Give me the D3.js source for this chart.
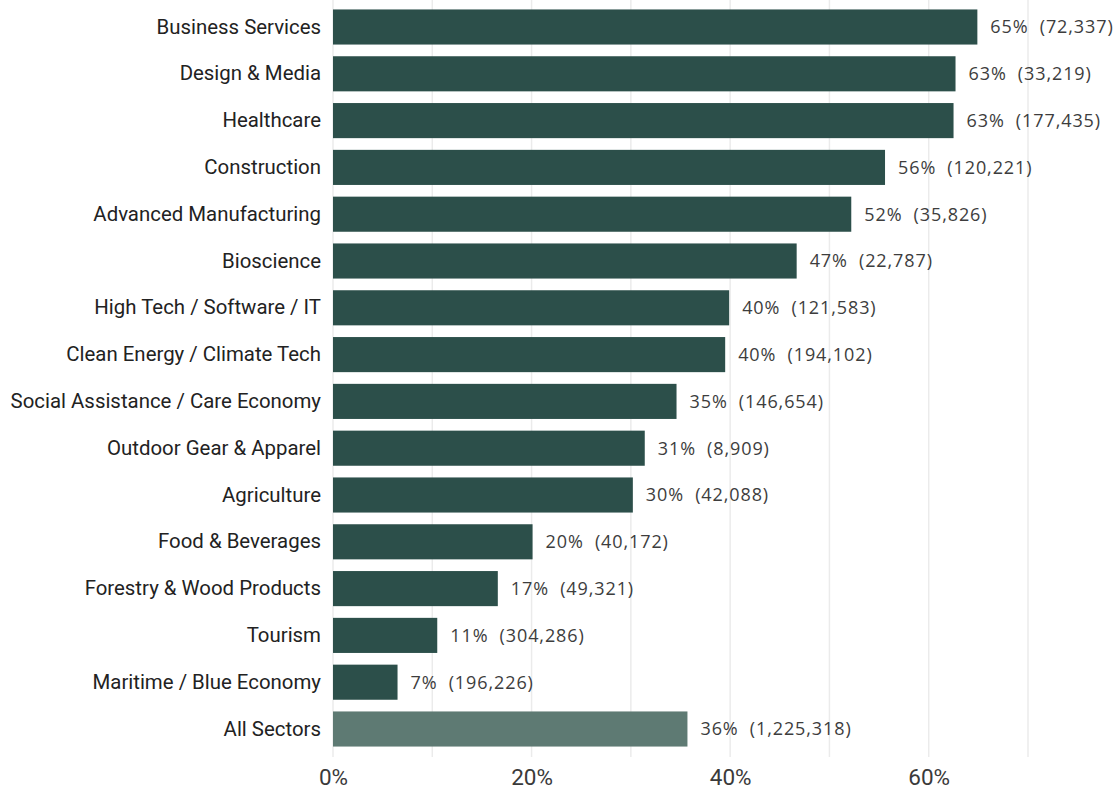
<!DOCTYPE html>
<html>
<head>
<meta charset="utf-8">
<script src="https://cdn.jsdelivr.net/npm/d3@7"></script>
<style>
  html, body { margin: 0; padding: 0; background: #fff; }
  svg text { font-family: "Roboto", sans-serif; }
</style>
</head>
<body>
<svg id="chart" width="1120" height="792"></svg>
<script>
// Share of workers by sector, with worker counts
const sectors = [
  "Business Services", "Design & Media", "Healthcare", "Construction",
  "Advanced Manufacturing", "Bioscience", "High Tech / Software / IT",
  "Clean Energy / Climate Tech", "Social Assistance / Care Economy",
  "Outdoor Gear & Apparel", "Agriculture", "Food & Beverages",
  "Forestry & Wood Products", "Tourism", "Maritime / Blue Economy", "All Sectors"
];
const shares = [64.9, 62.7, 62.5, 55.6, 52.2, 46.7, 39.9, 39.5, 34.6, 31.4, 30.2, 20.1, 16.6, 10.5, 6.5, 35.7];
const counts = [72337, 33219, 177435, 120221, 35826, 22787, 121583, 194102, 146654, 8909, 42088, 40172, 49321, 304286, 196226, 1225318];
const xTicks = [0, 20, 40, 60];
const gridValues = [0, 10, 20, 30, 40, 50, 60, 70];

const rows = sectors.map((s, i) => ({ sector: s, share: shares[i], count: counts[i], total: s === "All Sectors" }));

const svg = d3.select("#chart");
const width = 1120, height = 792;
const plotLeft = 333, plotBottom = 757;

const x = d3.scaleLinear().domain([0, 70]).range([plotLeft, plotLeft + 695]);
const y = d3.scaleBand().domain(sectors).range([3.6, 752.4]).paddingInner(0.25).paddingOuter(0.125);

// vertical gridlines
svg.append("g").selectAll("line").data(gridValues).join("line")
  .attr("x1", d => x(d)).attr("x2", d => x(d))
  .attr("y1", 0).attr("y2", plotBottom)
  .attr("stroke", "#ebebeb").attr("stroke-width", 1.5);

// bars
svg.append("g").selectAll("rect").data(rows).join("rect")
  .attr("x", x(0))
  .attr("y", d => y(d.sector))
  .attr("width", d => x(d.share) - x(0))
  .attr("height", y.bandwidth())
  .attr("fill", d => d.total ? "#5e7a73" : "#2c4f4a");

// value labels
const fmt = d3.format(",");
svg.append("g").selectAll("text").data(rows).join("text")
  .attr("x", d => x(d.share) + 13)
  .attr("y", d => y(d.sector) + y.bandwidth() / 2)
  .attr("dy", "0.36em")
  .attr("font-size", 18)
  .attr("letter-spacing", 0.9)
  .attr("fill", "#3d3d3d")
  .style("font-family", "'Open Sans', sans-serif")
  .attr("xml:space", "preserve")
  .text(d => `${Math.round(d.share)}%  (${fmt(d.count)})`);

// category axis
const yAxis = d3.axisLeft(y).tickSize(0).tickPadding(12);
svg.append("g").attr("transform", `translate(${plotLeft},0)`).call(yAxis)
  .call(g => g.select(".domain").remove())
  .call(g => g.selectAll("text").attr("font-size", 20.4).attr("fill", "#222")
    .style("font-family", "'Roboto', sans-serif"));

// value axis
const xAxis = d3.axisBottom(x).tickValues(xTicks).tickFormat(d => d + "%").tickSize(0).tickPadding(12);
svg.append("g").attr("transform", `translate(0,${plotBottom})`).call(xAxis)
  .call(g => g.select(".domain").remove())
  .call(g => g.selectAll("text").attr("font-size", 22.5).attr("fill", "#3a3a3a")
    .style("font-family", "'Roboto', sans-serif"));
</script>
</body>
</html>
